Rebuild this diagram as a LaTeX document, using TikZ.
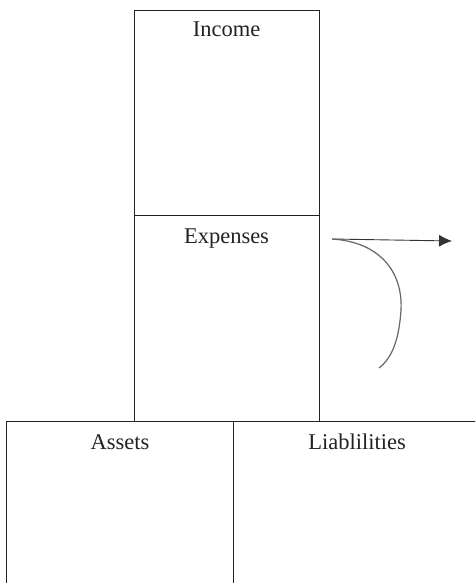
\documentclass[tikz,border=0pt]{standalone}
\usepackage{fontspec}
\setmainfont{Liberation Serif}
\usepackage{tikz}
\usetikzlibrary{arrows.meta, positioning}
\definecolor{boxline}{HTML}{222222}
\definecolor{arrowgray}{HTML}{333333}
\definecolor{curvegray}{HTML}{666666}

\begin{document}
\begin{tikzpicture}[x=1pt, y=-1pt,
    box/.style={draw=boxline, line width=0.9pt, fill=none},
    lbl/.style={anchor=base, inner sep=0pt, font=\fontsize{22.5}{27}\selectfont, text=boxline}]
  \clip (0,0) rectangle (475,583);

  % Boxes
  \draw[box] (134,10) rectangle (319,215);
  \draw[box] (134,215) rectangle (319,421);
  \draw[box] (6,421) rectangle (233,600);
  \draw[box] (233,421) rectangle (490,600);

  % Labels
  \node[lbl] (income)   at (226.5,37)  {Income};
  \node[lbl] (expenses) at (226.5,243) {Expenses};
  \node[lbl] (assets)   at (120,449)   {Assets};
  \node[lbl] (liab)     at (357,449)   {Liablilities};

  % Arrow and curve
  \coordinate (start) at (332,239);
  \coordinate (tip)   at (452,241);
  \coordinate (bend)  at (401,310);
  \coordinate (tail)  at (379,368);
  \draw[arrowgray, line width=0.9pt, -{Latex[length=13pt, width=12pt]}] (start) -- (tip);
  \draw[curvegray, line width=1.2pt]
    (start) .. controls (380,242) and (403,272) .. (bend)
            .. controls (399,340) and (392,358) .. (tail);
\end{tikzpicture}
\end{document}
